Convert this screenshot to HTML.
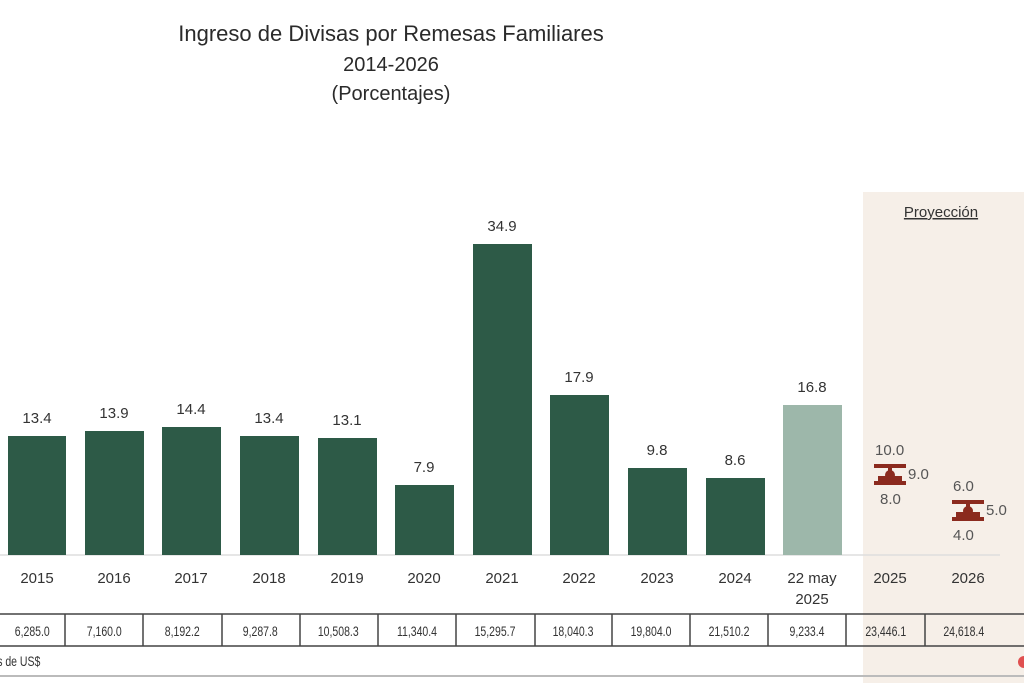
<!DOCTYPE html>
<html><head><meta charset="utf-8"><style>
body{margin:0;width:1024px;height:683px;background:#fff;overflow:hidden;font-family:"Liberation Sans",sans-serif}
</style></head><body>
<svg width="1024" height="683" xmlns="http://www.w3.org/2000/svg" font-family="Liberation Sans, sans-serif">
<rect x="863" y="192" width="161" height="491" fill="#f6efe8"/>
<text x="391" y="41" font-size="22" text-anchor="middle" fill="#2a2a2a">Ingreso de Divisas por Remesas Familiares</text>
<text x="391" y="71" font-size="20" text-anchor="middle" fill="#2a2a2a">2014-2026</text>
<text x="391" y="100" font-size="20" text-anchor="middle" fill="#2a2a2a">(Porcentajes)</text>
<text x="941" y="217" font-size="15" text-anchor="middle" fill="#333" text-decoration="underline">Proyección</text>
<line x1="0" y1="555" x2="1000" y2="555" stroke="#ddd" stroke-width="1.5"/>
<g fill="#2d5a47">
<rect x="8" y="436" width="58" height="119"/>
<rect x="85" y="431" width="59" height="124"/>
<rect x="162" y="427" width="59" height="128"/>
<rect x="240" y="436" width="59" height="119"/>
<rect x="318" y="438" width="59" height="117"/>
<rect x="395" y="485" width="59" height="70"/>
<rect x="473" y="244" width="59" height="311"/>
<rect x="550" y="395" width="59" height="160"/>
<rect x="628" y="468" width="59" height="87"/>
<rect x="706" y="478" width="59" height="77"/>
</g>
<rect x="783" y="405" width="59" height="150" fill="#9db7aa"/>
<g font-size="15" fill="#333" text-anchor="middle">
<text x="37" y="423">13.4</text><text x="114" y="418">13.9</text><text x="191" y="414">14.4</text>
<text x="269" y="423">13.4</text><text x="347" y="425">13.1</text><text x="424" y="472">7.9</text>
<text x="502" y="231">34.9</text><text x="579" y="382">17.9</text><text x="657" y="455">9.8</text>
<text x="735" y="465">8.6</text><text x="812" y="392">16.8</text>
</g>
<g font-size="15" fill="#333" text-anchor="middle">
<text x="37" y="583">2015</text><text x="114" y="583">2016</text><text x="191" y="583">2017</text>
<text x="269" y="583">2018</text><text x="347" y="583">2019</text><text x="424" y="583">2020</text>
<text x="502" y="583">2021</text><text x="579" y="583">2022</text><text x="657" y="583">2023</text>
<text x="735" y="583">2024</text><text x="812" y="583">22 may</text><text x="812" y="604">2025</text>
<text x="890" y="583">2025</text><text x="968" y="583">2026</text>
</g>
<g fill="#8b2a1e">
<rect x="874" y="464" width="32" height="4"/><rect x="874" y="481" width="32" height="4"/>
<rect x="888" y="466" width="4" height="16"/><circle cx="890" cy="475" r="5"/><rect x="878" y="476" width="24" height="5"/>
<rect x="952" y="500" width="32" height="4"/><rect x="952" y="517" width="32" height="4"/>
<rect x="966" y="502" width="4" height="16"/><circle cx="968" cy="511" r="5"/><rect x="956" y="512" width="24" height="5"/>
</g>
<g font-size="15" fill="#555">
<text x="875" y="455">10.0</text><text x="908" y="479">9.0</text><text x="880" y="504">8.0</text>
<text x="953" y="491">6.0</text><text x="986" y="515">5.0</text><text x="953" y="540">4.0</text>
</g>
<g stroke="#444" stroke-width="1.5" fill="none">
<line x1="0" y1="614" x2="1024" y2="614"/><line x1="0" y1="646" x2="1024" y2="646"/>
<line x1="65" y1="614" x2="65" y2="646"/><line x1="143" y1="614" x2="143" y2="646"/>
<line x1="222" y1="614" x2="222" y2="646"/><line x1="300" y1="614" x2="300" y2="646"/>
<line x1="378" y1="614" x2="378" y2="646"/><line x1="456" y1="614" x2="456" y2="646"/>
<line x1="535" y1="614" x2="535" y2="646"/><line x1="612" y1="614" x2="612" y2="646"/>
<line x1="690" y1="614" x2="690" y2="646"/><line x1="768" y1="614" x2="768" y2="646"/>
<line x1="846" y1="614" x2="846" y2="646"/><line x1="925" y1="614" x2="925" y2="646"/>
</g>
<line x1="0" y1="676" x2="1024" y2="676" stroke="#bbb" stroke-width="2"/>
<g font-size="14" fill="#333" text-anchor="middle" transform="scale(0.75,1)">
<text x="43" y="636">6,285.0</text><text x="139" y="636">7,160.0</text><text x="243" y="636">8,192.2</text>
<text x="347" y="636">9,287.8</text><text x="451" y="636">10,508.3</text><text x="556" y="636">11,340.4</text>
<text x="660" y="636">15,295.7</text><text x="764" y="636">18,040.3</text><text x="868" y="636">19,804.0</text>
<text x="972" y="636">21,510.2</text><text x="1076" y="636">9,233.4</text><text x="1181" y="636">23,446.1</text>
<text x="1285" y="636">24,618.4</text>
<text x="25" y="666">s de US$</text>
</g>
<circle cx="1024" cy="662" r="6" fill="#e05050"/>
</svg>
</body></html>
